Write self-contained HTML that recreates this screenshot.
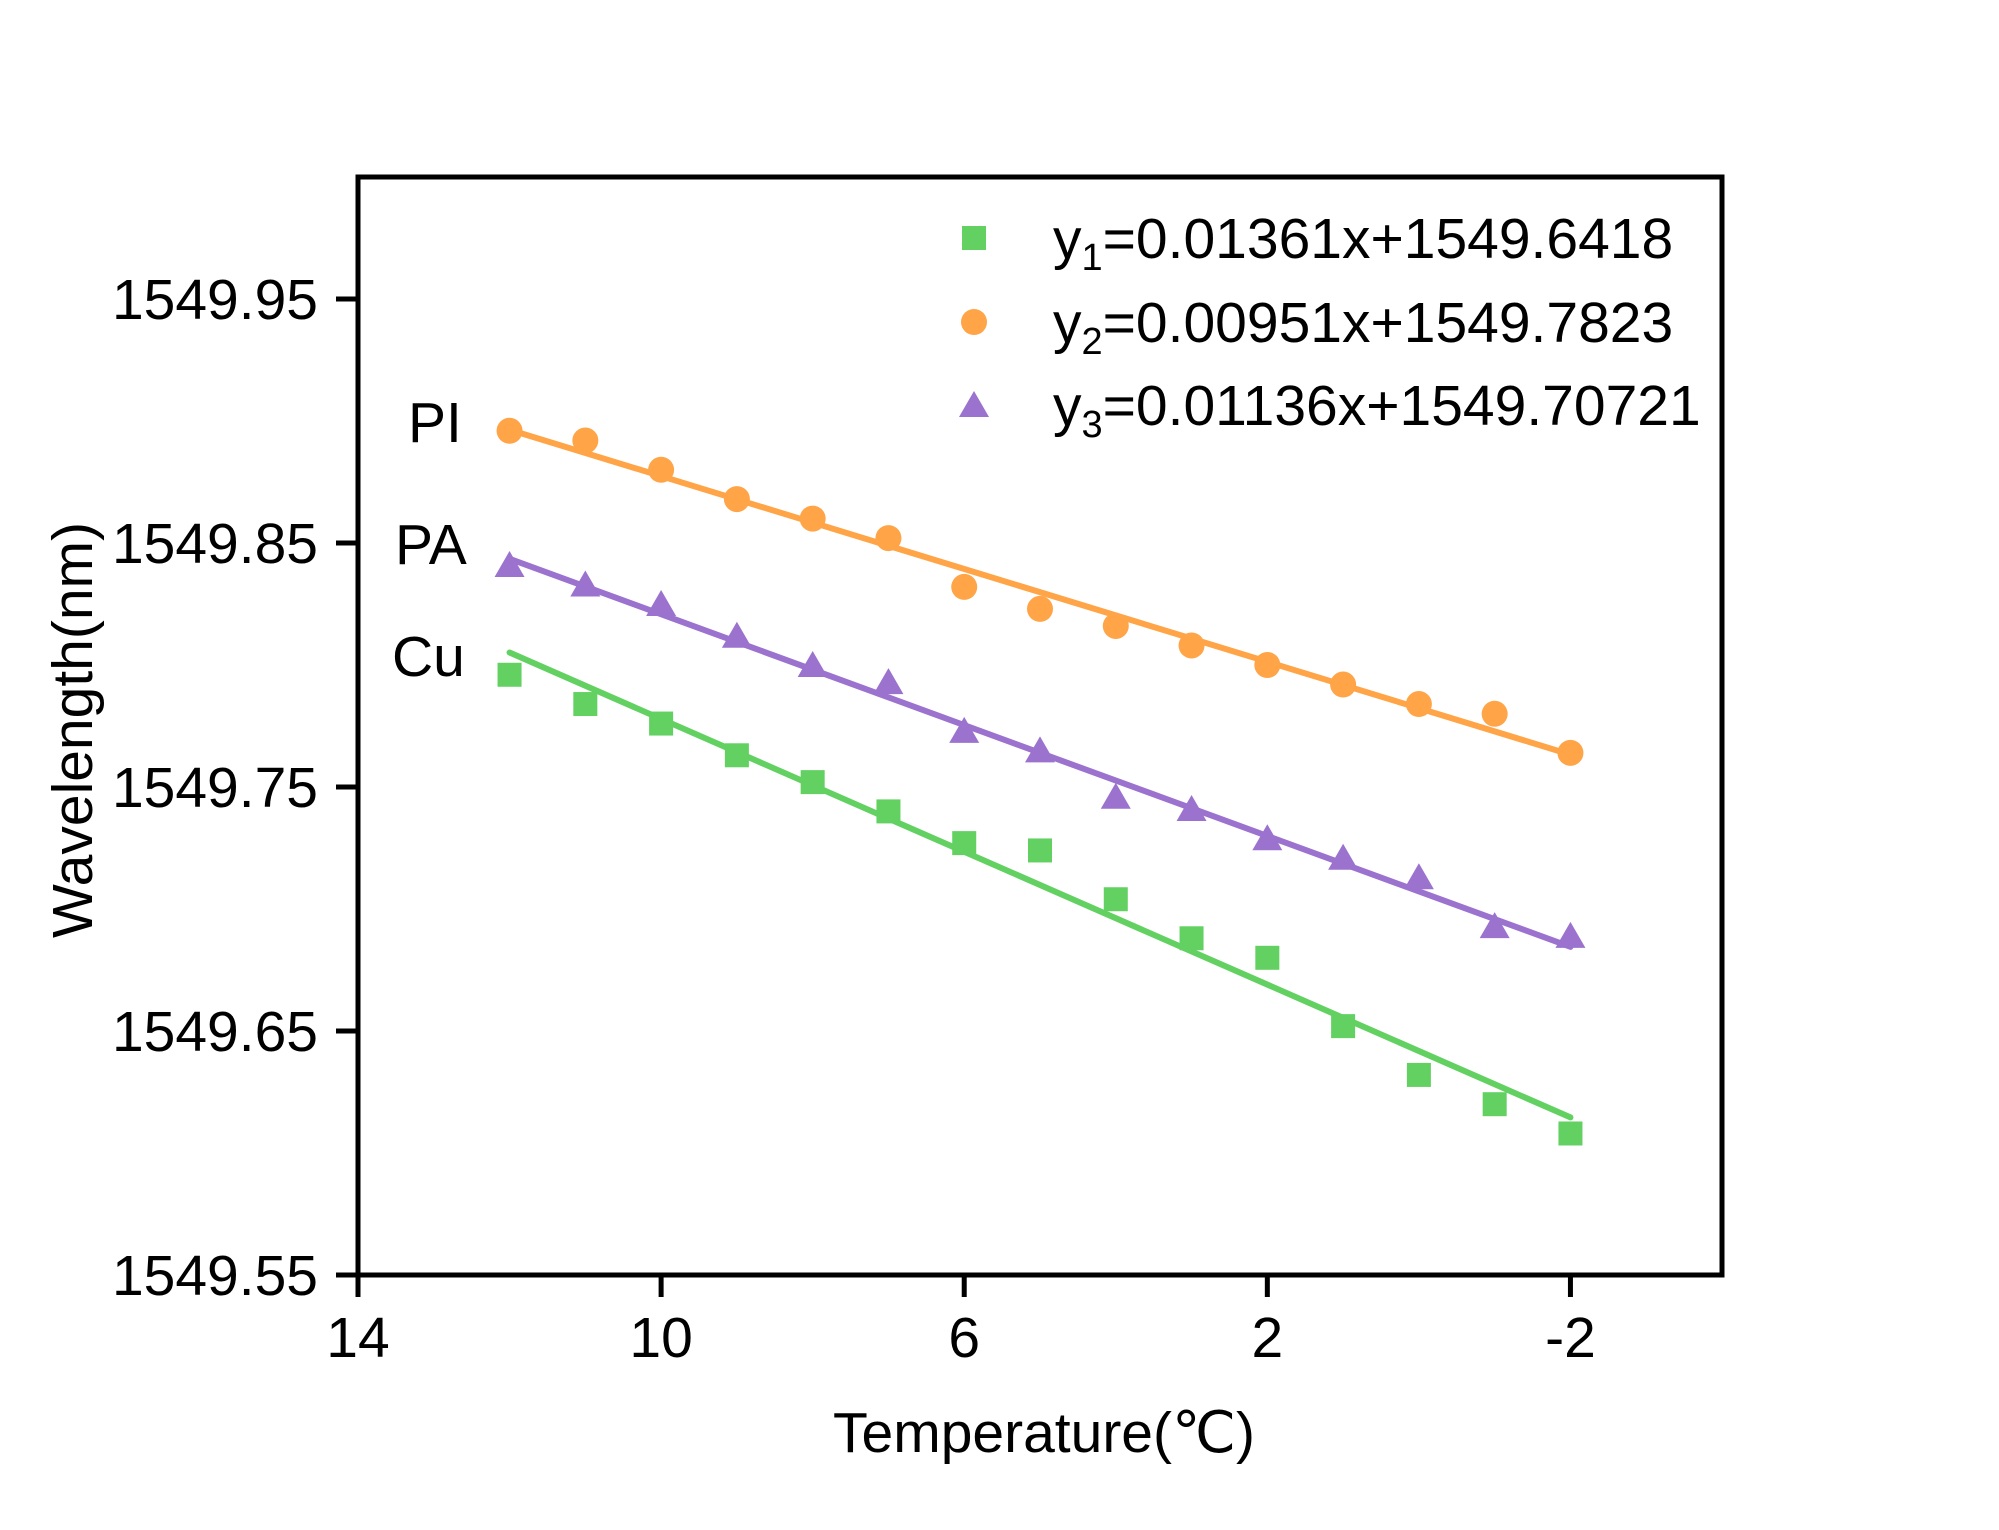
<!DOCTYPE html>
<html><head><meta charset="utf-8"><style>
html,body{margin:0;padding:0;background:#fff;}
svg{display:block;font-family:"Liberation Sans",Arial,sans-serif;}
</style></head><body>
<svg id="chart" width="1999" height="1530" viewBox="0 0 1999 1530" xmlns="http://www.w3.org/2000/svg">
<rect width="1999" height="1530" fill="#fff"/>
<g id="plot"></g>
</svg>
<script>
const temps = [12,11,10,9,8,7,6,5,4,3,2,1,0,-1,-2];
const cuValues = [1549.796,1549.784,1549.776,1549.763,1549.752,1549.740,1549.727,1549.724,1549.704,1549.688,1549.680,1549.652,1549.632,1549.620,1549.608];
const piValues = [1549.896,1549.892,1549.880,1549.868,1549.860,1549.852,1549.832,1549.823,1549.816,1549.808,1549.800,1549.792,1549.784,1549.780,1549.764];
const paValues = [1549.841,1549.833,1549.825,1549.812,1549.800,1549.793,1549.773,1549.765,1549.746,1549.741,1549.729,1549.721,1549.713,1549.693,1549.689];
const fitSlopes = [0.01361,0.00951,0.01136];
const fitIntercepts = [1549.6418,1549.7823,1549.70721];
const xTicks = [14,10,6,2,-2];
const yTicks = [1549.55,1549.65,1549.75,1549.85,1549.95];
const yTickLabels = ["1549.55","1549.65","1549.75","1549.85","1549.95"];
const legendLabels = ["=0.01361x+1549.6418","=0.00951x+1549.7823","=0.01136x+1549.70721"];

const NS="http://www.w3.org/2000/svg";
const L=358,R=1722,T=177,B=1275;
const X0=14,X1=-4,Y0=1549.55,Y1=1550.0;
function sx(v){return L+(X0-v)/(X0-X1)*(R-L);}
function sy(v){return B-(v-Y0)/(Y1-Y0)*(B-T);}
const g=document.getElementById('plot');
function el(tag,attrs,parent){const e=document.createElementNS(NS,tag);for(const k in attrs)e.setAttribute(k,attrs[k]);(parent||g).appendChild(e);return e;}

const colors=["#62d162","#ffa447","#9c72cf"];
const series=[cuValues,piValues,paValues];
const names=["cu","pi","pa"];

for(let s=0;s<3;s++){
  const xa=temps[0],xb=temps[temps.length-1];
  const ln=el('line',{x1:sx(xa),y1:sy(fitSlopes[s]*xa+fitIntercepts[s]),x2:sx(xb),y2:sy(fitSlopes[s]*xb+fitIntercepts[s]),stroke:colors[s],'stroke-width':6,'stroke-linecap':'round'});
  
  
}
function marker(kind,cx,cy,color,parent){
  let m;
  if(kind===0) m=el('rect',{x:cx-12,y:cy-12,width:24,height:24,fill:color},parent);
  else if(kind===1) m=el('circle',{cx:cx,cy:cy,r:13,fill:color},parent);
  else m=el('polygon',{points:`${cx},${cy-14} ${cx+15},${cy+12} ${cx-15},${cy+12}`,fill:color},parent);
  return m;
}
for(let s=0;s<3;s++){
  for(let i=0;i<temps.length;i++){
    const m=marker(s,sx(temps[i]),sy(series[s][i]),colors[s]);
    
    
  }
}
const fr=el('rect',{x:L,y:T,width:R-L,height:B-T,fill:'none',stroke:'#000','stroke-width':5});


xTicks.forEach(v=>{
  const t=el('line',{x1:sx(v),y1:B,x2:sx(v),y2:B+22,stroke:'#000','stroke-width':5});
  
  
  const tx=el('text',{x:sx(v),y:1357,'font-size':57,'text-anchor':'middle',fill:'#000'});
  tx.textContent=v;
  
  
});
yTicks.forEach((v,i)=>{
  const t=el('line',{x1:L-22,y1:sy(v),x2:L,y2:sy(v),stroke:'#000','stroke-width':5});
  
  
  const tx=el('text',{x:318,y:sy(v)+20,'font-size':57,'text-anchor':'end',fill:'#000'});
  tx.textContent=yTickLabels[i];
  
  
});
const xt=el('text',{x:1044,y:1452,'font-size':57,'text-anchor':'middle',fill:'#000'});
xt.textContent='Temperature(℃)';


const yt=el('text',{x:0,y:0,'font-size':57,'text-anchor':'middle',fill:'#000',transform:'translate(92,730) rotate(-90)'});
yt.textContent='Wavelength(nm)';


[["PI",408,442],["PA",395,564],["Cu",392,676]].forEach(a=>{
  const t=el('text',{x:a[1],y:a[2],'font-size':57,fill:'#000'});
  t.textContent=a[0];
  
  
});
const rows=[238,322,405];
for(let s=0;s<3;s++){
  const lg=el('g',{});
  
  
  marker(s,974,rows[s],colors[s],lg);
  const t=el('text',{x:1053,y:rows[s]+20,'font-size':57,fill:'#000'},lg);
  const a=document.createElementNS(NS,'tspan');a.textContent='y';t.appendChild(a);
  const b=document.createElementNS(NS,'tspan');b.setAttribute('font-size','38');b.setAttribute('dy','12');b.textContent=String(s+1);t.appendChild(b);
  const c=document.createElementNS(NS,'tspan');c.setAttribute('dy','-12');c.textContent=legendLabels[s];t.appendChild(c);
}
</script>
</body></html>
